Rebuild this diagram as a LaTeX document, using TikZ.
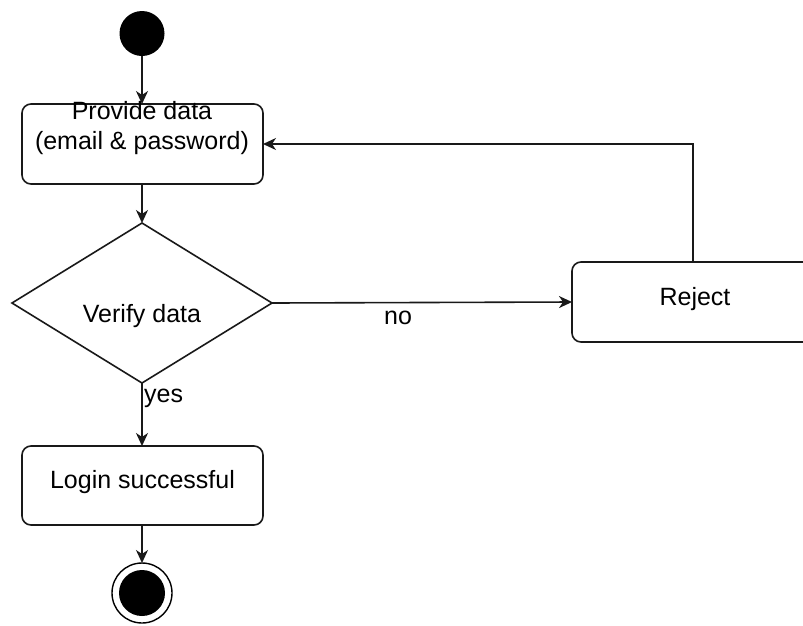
\documentclass[tikz,border=0pt]{standalone}
\usepackage{fontspec}
\setmainfont{Liberation Sans}
\usetikzlibrary{arrows.meta,shapes.geometric}
\begin{document}
\begin{tikzpicture}[x=1pt,y=-1pt,
  every node/.style={font=\fontsize{25}{30}\selectfont},
  line/.style={line width=1.6pt,draw=black!90},
  flow/.style={line,-{Stealth[length=13pt,width=12pt,inset=4pt]}},
  activity/.style={line,rounded corners=9pt},
  lbl/.style={inner sep=0pt}]
  \useasboundingbox (0,0) rectangle (803,625);
  \clip (0,0) rectangle (803,625);

  % start and end states
  \fill (142,33.5) circle (22.5);
  \coordinate (startbot) at (142,56);
  \draw[line width=1.4pt] (142,593) circle (30);
  \fill (142,593) circle (23);
  \coordinate (endtop) at (142,563);

  % activities
  \draw[activity] (22,104) rectangle (263,184);
  \coordinate (provTop) at (142,104);
  \coordinate (provBot) at (142,184);
  \coordinate (provRight) at (263,144);
  \node[lbl,align=center] (prov) at (142,128) {Provide data\\(email \& password)};

  \draw[line] (142,223) -- (272,303) -- (142,383) -- (12,303) -- cycle;
  \coordinate (decTop) at (142,223);
  \coordinate (decRight) at (272,303);
  \coordinate (decBot) at (142,383);
  \node[lbl] (verify) at (142,316) {Verify data};

  \draw[activity] (572,262) rectangle (814,342);
  \coordinate (rejLeft) at (572,302);
  \coordinate (rejTop) at (693,262);
  \node[lbl] (reject) at (695,299) {Reject};

  \draw[activity] (22,446) rectangle (263,525);
  \coordinate (loginTop) at (142,446);
  \coordinate (loginBot) at (142,525);
  \node[lbl] (login) at (142.5,482) {Login successful};

  % connectors
  \draw[flow] (startbot) -- (provTop);
  \draw[flow] (provBot) -- (decTop);
  \draw[flow] (decRight) -- (rejLeft);
  \draw[flow] (decBot) -- (loginTop);
  \draw[flow] (loginBot) -- (endtop);
  \draw[flow] (rejTop) |- (provRight);

  % guard labels
  \node[lbl] (no) at (398,318) {no};
  \node[lbl,anchor=west] (yes) at (144,398) {yes};
\end{tikzpicture}
\end{document}
